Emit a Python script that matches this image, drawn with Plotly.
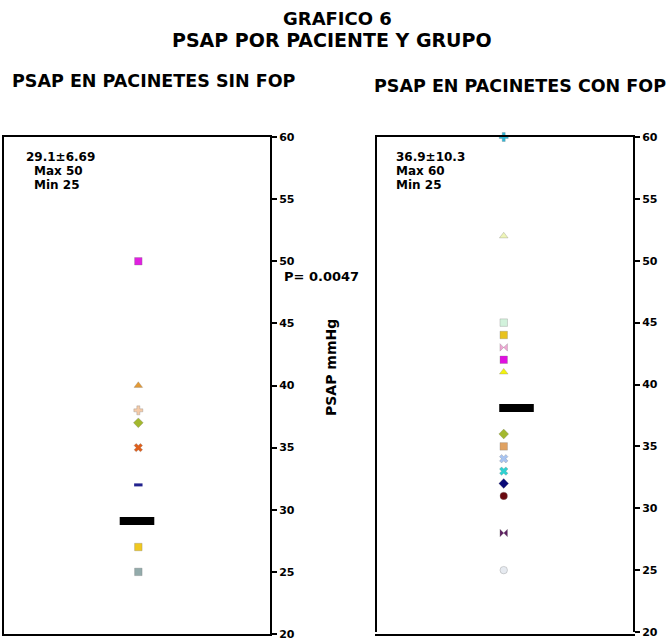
import plotly.graph_objects as go

# ---------------- data ----------------
sin_values = [50, 40, 38, 37, 35, 32, 27, 25]
sin_symbols = ["square", "triangle-up", "cross", "diamond", "x", "line-ew", "square", "square"]
sin_colors = ["#e020e0", "#e49a35", "#f5cba8", "#a3b82e", "#e0601c", "#22228e", "#f0c820", "#93abab"]
sin_mean = 29.1

con_values = [60, 52, 45, 44, 43, 42, 41, 36, 35, 34, 33, 32, 31, 28, 25]
con_symbols = ["cross", "triangle-up", "square", "square", "bowtie", "square", "triangle-up",
               "diamond", "square", "x", "x", "diamond", "circle", "bowtie", "circle"]
con_colors = ["#2fb8d8", "#eef5b8", "#d2f2dc", "#e8c21e", "#f0a6d4", "#e010e0", "#f2f20e",
              "#a3b82e", "#e0a262", "#a8c4f2", "#2ed2d2", "#0a0a78", "#6a0a10", "#5e2062", "#e6eaf0"]
con_mean = 38.1

stats_sin = ["29.1±6.69", "Max 50", "Min 25"]
stats_con = ["36.9±10.3", "Max 60", "Min 25"]
y_ticks = [20, 25, 30, 35, 40, 45, 50, 55, 60]

# ---------------- layout helpers ----------------
W, H = 666, 641
L, R, T, B = 4, 33, 137, 5
PW, PH = W - L - R, H - T - B


def px(x, y):
    return (x - L) / PW, (H - B - y) / PH


BOLD = dict(family="DejaVu Sans", color="black", weight="bold")

fig = go.Figure()


def add_points(vals, syms, cols, xpos, xa, ya):
    for v, s, c in zip(vals, syms, cols):
        line_w = 3 if s == "line-ew" else 0.6
        line_c = c if s == "line-ew" else "rgba(120,120,120,0.5)"
        fig.add_trace(go.Scatter(
            x=[xpos], y=[v], mode="markers", xaxis=xa, yaxis=ya,
            marker=dict(symbol=s, size=7.5 if s != "line-ew" else 6, color=c,
                        line=dict(width=line_w, color=line_c)),
            cliponaxis=False, showlegend=False, hoverinfo="y"))


def add_mean(m, xc, half, xa, ya):
    fig.add_trace(go.Scatter(
        x=[xc - half, xc + half], y=[m, m], mode="lines", xaxis=xa, yaxis=ya,
        line=dict(color="black", width=8), showlegend=False, hoverinfo="y"))


add_points(sin_values, sin_symbols, sin_colors, 1.01, "x", "y")
add_mean(sin_mean, 1.0, 0.13, "x", "y")
add_points(con_values, con_symbols, con_colors, 0.99, "x2", "y2")
add_mean(con_mean, 1.09, 0.135, "x2", "y2")

axis_common = dict(showline=True, linecolor="black", linewidth=2, mirror=True,
                   showgrid=False, zeroline=False, automargin=False)
xr_left = (270 - L) / PW
xl_right = (377 - L) / PW
y1_bottom = (636 - 634) / PH
y2_bottom = (636 - 632) / PH

fig.update_layout(
    width=W, height=H, margin=dict(l=L, r=R, t=T, b=B, autoexpand=False),
    paper_bgcolor="white", plot_bgcolor="white",
    xaxis=dict(domain=[0, xr_left], range=[0, 2], showticklabels=False, ticks="", **axis_common),
    xaxis2=dict(domain=[xl_right, 1], range=[0, 2], showticklabels=False, ticks="", **axis_common),
    yaxis=dict(domain=[y1_bottom, 1], range=[20, 60], side="right", tickvals=y_ticks,
               ticks="outside", ticklen=5, tickwidth=1.5, tickcolor="black",
               ticklabeloverflow="allow",
               tickfont=dict(size=11, **BOLD), anchor="x", **axis_common),
    yaxis2=dict(domain=[y2_bottom, 1], range=[20, 60], side="right", tickvals=y_ticks,
                ticks="outside", ticklen=5, tickwidth=1.5, tickcolor="black",
                ticklabeloverflow="allow",
                tickfont=dict(size=11, **BOLD), anchor="x2", **axis_common),
)


def ann(text, x, y, size, xanchor="center", textangle=0):
    ax, ay = px(x, y)
    fig.add_annotation(text=text, x=ax, y=ay, xref="paper", yref="paper",
                       xanchor=xanchor, yanchor="middle", showarrow=False,
                       textangle=textangle, font=dict(size=size, **BOLD))


ann("GRAFICO 6", 337, 18, 18)
ann("PSAP POR PACIENTE Y GRUPO", 332, 40, 19)
ann("PSAP EN PACINETES SIN FOP", 154, 81, 17.5)
ann("PSAP EN PACINETES CON FOP", 520, 86, 17.5)
ann("P= 0.0047", 282, 276, 13, xanchor="left")
ann("PSAP mmHg", 331, 368, 14, textangle=-90)

for i, (t, xl) in enumerate(zip(stats_sin, [24, 32, 32])):
    ann(t, xl, 157 + 14 * i, 12, xanchor="left")
for i, t in enumerate(stats_con):
    ann(t, 394, 157 + 14 * i, 12, xanchor="left")

fig.write_html("out.html", post_script="document.body.style.margin='0';",
               config={"displayModeBar": False})
